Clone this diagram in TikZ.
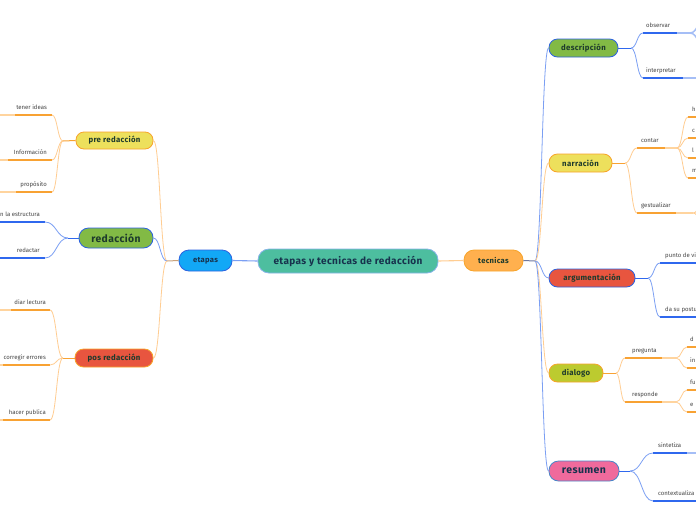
\documentclass[tikz,border=0pt]{standalone}
\usepackage{fontspec}
\setmainfont{Fira Sans}
\newfontfamily\nodefont[LetterSpace=4]{Fira Sans}
\usetikzlibrary{calc}
\definecolor{cTeal}{HTML}{4DBE9F}
\definecolor{cTealB}{HTML}{86B4E8}
\definecolor{cBlueF}{HTML}{12A8F6}
\definecolor{cBlueB}{HTML}{2C62E0}
\definecolor{cOrF}{HTML}{FFB04E}
\definecolor{cOrB}{HTML}{F7A42A}
\definecolor{cYel}{HTML}{EDE05C}
\definecolor{cGreen}{HTML}{82BA45}
\definecolor{cRed}{HTML}{E8553F}
\definecolor{cLime}{HTML}{BCCB2F}
\definecolor{cPink}{HTML}{F06A9C}
\definecolor{cPinkB}{HTML}{4A86C8}
\definecolor{lnO}{HTML}{FFCD92}
\definecolor{ulO}{HTML}{F8A233}
\definecolor{ulOl}{HTML}{FFD49E}
\definecolor{lnB}{HTML}{7B9FF3}
\definecolor{ulB}{HTML}{2F68EE}
\definecolor{ulBl}{HTML}{A5BEF6}
\definecolor{txtN}{HTML}{1D3A2C}
\definecolor{txtC}{HTML}{17324D}
\definecolor{txtL}{HTML}{454545}
\definecolor{lnTan}{HTML}{C9A27C}
\definecolor{lnGB}{HTML}{6E78A0}
\newcommand\sconn[3]{\draw[#1] let \p1=(#2), \p2=(#3), \n1={0.5*(\x1+\x2)} in (\p1) .. controls (\n1,\y1) and (\n1,\y2) .. (\p2);}
\begin{document}
\begin{tikzpicture}[x=1pt,y=-1pt,
  pill/.style={draw, line width=0.8pt, inner sep=0pt, text=txtN, font=\nodefont\fontsize{7.8}{9}\selectfont\bfseries},
  leaf/.style={inner sep=0pt, text=txtL, font=\fontsize{6}{7}\selectfont},
  oc/.style={draw=lnO, line width=0.8pt},
  bc/.style={draw=lnB, line width=0.8pt},
  ou/.style={draw=ulO, line width=1.5pt},
  oul/.style={draw=ulOl, line width=1.5pt},
  bu/.style={draw=ulB, line width=1.5pt},
  bul/.style={draw=ulBl, line width=1.5pt}]
\clip (0,0) rectangle (696,520);
\fill[white] (0,0) rectangle (696,520);

% main nodes
\node[pill, fill=cTeal, draw=cTealB, text=txtC, minimum width=180pt, minimum height=24pt, rounded corners=11pt, font=\nodefont\fontsize{10}{11}\selectfont\bfseries] (C) at (348,261) {etapas y tecnicas de redacción};
\node[pill, fill=cBlueF, draw=cBlueB, text=txtC, minimum width=53pt, minimum height=21pt, rounded corners=10pt, font=\nodefont\fontsize{7.6}{9}\selectfont\bfseries] (E) at (205.5,260.5) {etapas};
\node[pill, fill=cOrF, draw=cOrB, minimum width=59pt, minimum height=21pt, rounded corners=10pt, font=\nodefont\fontsize{7.6}{9}\selectfont\bfseries] (T) at (493.5,260.5) {tecnicas};

\node[pill, fill=cYel, draw=cOrB, minimum width=77pt, minimum height=17pt, rounded corners=8pt] (PR) at (114.5,140.5) {pre redacción};
\node[pill, fill=cGreen, draw=cBlueB, minimum width=74pt, minimum height=20pt, rounded corners=9.5pt, font=\nodefont\fontsize{10.3}{11}\selectfont\bfseries] (RD) at (116,238) {redacción};
\node[pill, fill=cRed, draw=cOrB, minimum width=78pt, minimum height=18pt, rounded corners=8.5pt] (PO) at (114,358) {pos redacción};

\node[pill, fill=cGreen, draw=cBlueB, minimum width=69pt, minimum height=18pt, rounded corners=8.5pt] (DE) at (583.5,48) {descripción};
\node[pill, fill=cYel, draw=cOrB, minimum width=63pt, minimum height=18pt, rounded corners=8.5pt] (NA) at (580.5,163) {narración};
\node[pill, fill=cRed, draw=cBlueB, minimum width=86pt, minimum height=18pt, rounded corners=8.5pt] (AR) at (592,278) {argumentación};
\node[pill, fill=cLime, draw=cOrB, minimum width=54pt, minimum height=18pt, rounded corners=8.5pt] (DI) at (576,373) {dialogo};
\node[pill, fill=cPink, draw=cPinkB, text=txtC, minimum width=70pt, minimum height=20pt, rounded corners=9.5pt, font=\nodefont\fontsize{10.5}{11}\selectfont\bfseries] (RE) at (584,471) {resumen};

% branch points
\coordinate (bE) at (167,261);
\coordinate (bT) at (535,261);
\coordinate (bPR) at (63,141);
\coordinate (bRD) at (68,238);
\coordinate (bPO) at (63,358);
\coordinate (bDE) at (631,48);
\coordinate (bNA) at (625,163);
\coordinate (bAR) at (648,278);
\coordinate (bDI) at (616,373);
\coordinate (bRE) at (630,471);

% main connectors
\draw[draw=lnB, line width=1.1pt] (C.west) -- (E.east);
\draw[draw=lnO, line width=1.1pt] (C.east) -- (T.west);
\draw[draw=lnTan, line width=1pt] (E.west) -- (bE);
\draw[draw=lnGB, line width=1pt] (T.east) -- (bT);
\sconn{oc}{bE}{PR.east}
\sconn{bc}{bE}{RD.east}
\sconn{oc}{bE}{PO.east}
\sconn{bc}{bT}{DE.west}
\sconn{oc}{bT}{NA.west}
\sconn{bc}{bT}{AR.west}
\sconn{oc}{bT}{DI.west}
\sconn{bc}{bT}{RE.west}

\draw[draw=ulO, line width=1pt] (PR.west) -- (bPR);
\draw[draw=ulB, line width=1pt] (RD.west) -- (bRD);
\draw[draw=ulO, line width=1pt] (PO.west) -- (bPO);
\draw[draw=ulB, line width=1pt] (DE.east) -- (bDE);
\draw[draw=ulO, line width=1pt] (NA.east) -- (bNA);
\draw[draw=ulB, line width=1pt] (AR.east) -- (bAR);
\draw[draw=ulO, line width=1pt] (DI.east) -- (bDI);
\draw[draw=ulB, line width=1pt] (RE.east) -- (bRE);

% ---- pre redaccion leaves
\coordinate (u1s) at (0,115); \coordinate (u1m) at (15,115); \coordinate (u1e) at (52,115);
\coordinate (u2s) at (0,160); \coordinate (u2m) at (8,160); \coordinate (u2e) at (52,160);
\coordinate (u3s) at (0,192); \coordinate (u3m) at (16,192); \coordinate (u3e) at (52,192);
\draw[oul] (u1s) -- (u1m); \draw[ou] (u1m) -- (u1e);
\draw[oul] (u2s) -- (u2m); \draw[ou] (u2m) -- (u2e);
\draw[oul] (u3s) -- (u3m); \draw[ou] (u3m) -- (u3e);
\sconn{oc}{bPR}{u1e} \sconn{oc}{bPR}{u2e} \sconn{oc}{bPR}{u3e}
\node[leaf, anchor=base east] (t1) at (47,109) {tener ideas};
\node[leaf, anchor=base east] (t2) at (47,154) {Información};
\node[leaf, anchor=base east] (t3) at (47,186) {propósito};

% ---- redaccion leaves
\coordinate (u4s) at (0,222); \coordinate (u4e) at (45,222);
\coordinate (u5s) at (0,258); \coordinate (u5e) at (45,258);
\draw[bu] (u4s) -- (u4e); \draw[bu] (u5s) -- (u5e);
\sconn{bc}{bRD}{u4e} \sconn{bc}{bRD}{u5e}
\node[leaf, anchor=base west] (t4) at (0,216) {n la estructura};
\node[leaf, anchor=base east] (t5) at (40,252) {redactar};

% ---- pos redaccion leaves
\coordinate (u6s) at (0,310); \coordinate (u6m) at (11,310); \coordinate (u6e) at (50,310);
\coordinate (u7s) at (0,365); \coordinate (u7m) at (3,365); \coordinate (u7e) at (50,365);
\coordinate (u8s) at (0,420); \coordinate (u8m) at (3,420); \coordinate (u8e) at (50,420);
\draw[oul] (u6s) -- (u6m); \draw[ou] (u6m) -- (u6e);
\draw[oul] (u7s) -- (u7m); \draw[ou] (u7m) -- (u7e);
\draw[oul] (u8s) -- (u8m); \draw[ou] (u8m) -- (u8e);
\sconn{oc}{bPO}{u6e} \sconn{oc}{bPO}{u7e} \sconn{oc}{bPO}{u8e}
\node[leaf, anchor=base east] (t6) at (46,304) {diar lectura};
\node[leaf, anchor=base east] (t7) at (46,359) {corregir errores};
\node[leaf, anchor=base east] (t8) at (46,414) {hacer publica};

% ---- descripcion leaves
\coordinate (v1s) at (643,33); \coordinate (v1m) at (677,33); \coordinate (v1e) at (690,33);
\coordinate (v2s) at (643,78); \coordinate (v2m) at (683,78); \coordinate (v2e) at (698,78);
\draw[bu] (v1s) -- (v1m); \draw[bul] (v1m) -- (v1e);
\draw[bu] (v2s) -- (v2m); \draw[bul] (v2m) -- (v2e);
\sconn{bc}{bDE}{v1s} \sconn{bc}{bDE}{v2s}
\coordinate (ob1) at (706,18); \coordinate (ob2) at (706,48);
\sconn{bul}{v1e}{ob1} \sconn{bul}{v1e}{ob2}
\node[leaf, anchor=base west] (r1) at (646,27) {observar};
\node[leaf, anchor=base west] (r2) at (646,72) {interpretar};

% ---- narracion leaves
\coordinate (v3s) at (637,148); \coordinate (v3m) at (665,148); \coordinate (v3e) at (677,148);
\coordinate (v4s) at (637,213); \coordinate (v4m) at (676,213); \coordinate (v4e) at (693,213);
\draw[ou] (v3s) -- (v3m); \draw[oul] (v3m) -- (v3e);
\draw[ou] (v4s) -- (v4m); \draw[oul] (v4m) -- (v4e);
\sconn{oc}{bNA}{v3s} \sconn{oc}{bNA}{v4s}
\node[leaf, anchor=base west] (r3) at (641,142) {contar};
\node[leaf, anchor=base west] (r4) at (641,207) {gestualizar};
\coordinate (w1s) at (688,117); \coordinate (w1e) at (698,117);
\coordinate (w2s) at (688,138); \coordinate (w2e) at (698,138);
\coordinate (w3s) at (688,158); \coordinate (w3e) at (698,158);
\coordinate (w4s) at (688,178); \coordinate (w4e) at (698,178);
\draw[ou] (w1s) -- (w1e); \draw[ou] (w2s) -- (w2e); \draw[ou] (w3s) -- (w3e); \draw[ou] (w4s) -- (w4e);
\sconn{oc}{v3e}{w1s} \sconn{oc}{v3e}{w2s} \sconn{oc}{v3e}{w3s} \sconn{oc}{v3e}{w4s}
\node[leaf, anchor=base west] (s1) at (692,111) {h};
\node[leaf, anchor=base west] (s2) at (692,132) {c};
\node[leaf, anchor=base west] (s3) at (692,152) {l};
\node[leaf, anchor=base west] (s4) at (692,172) {m};
\coordinate (ge1) at (706,198); \coordinate (ge2) at (706,228);
\sconn{oc}{v4e}{ge1} \sconn{oc}{v4e}{ge2}

% ---- argumentacion leaves
\coordinate (v5s) at (660,263); \coordinate (v5e) at (698,263);
\coordinate (v6s) at (660,317); \coordinate (v6e) at (698,317);
\draw[bu] (v5s) -- (v5e); \draw[bu] (v6s) -- (v6e);
\sconn{bc}{bAR}{v5s} \sconn{bc}{bAR}{v6s}
\node[leaf, anchor=base west] (r5) at (665,257) {punto de vi};
\node[leaf, anchor=base west] (r6) at (665,311) {da su postu};

% ---- dialogo leaves
\coordinate (v7s) at (625,358); \coordinate (v7m) at (662,358); \coordinate (v7e) at (676,358);
\coordinate (v8s) at (625,402); \coordinate (v8m) at (662,402); \coordinate (v8e) at (676,402);
\draw[ou] (v7s) -- (v7m); \draw[oul] (v7m) -- (v7e);
\draw[ou] (v8s) -- (v8m); \draw[oul] (v8m) -- (v8e);
\sconn{oc}{bDI}{v7s} \sconn{oc}{bDI}{v8s}
\node[leaf, anchor=base west] (r7) at (632,352) {pregunta};
\node[leaf, anchor=base west] (r8) at (632,396) {responde};
\coordinate (x1s) at (687,347); \coordinate (x1e) at (698,347);
\coordinate (x2s) at (687,368); \coordinate (x2e) at (698,368);
\coordinate (x3s) at (687,390); \coordinate (x3e) at (698,390);
\coordinate (x4s) at (687,412); \coordinate (x4e) at (698,412);
\draw[ou] (x1s) -- (x1e); \draw[ou] (x2s) -- (x2e); \draw[ou] (x3s) -- (x3e); \draw[ou] (x4s) -- (x4e);
\sconn{oc}{v7e}{x1s} \sconn{oc}{v7e}{x2s} \sconn{oc}{v8e}{x3s} \sconn{oc}{v8e}{x4s}
\node[leaf, anchor=base west] (q1) at (690,341) {d};
\node[leaf, anchor=base west] (q2) at (690,362) {in};
\node[leaf, anchor=base west] (q3) at (690,384) {fu};
\node[leaf, anchor=base west] (q4) at (690,406) {e};

% ---- resumen leaves
\coordinate (v9s) at (653,453); \coordinate (v9m) at (687,453); \coordinate (v9e) at (698,453);
\coordinate (v10s) at (653,501); \coordinate (v10e) at (698,501);
\draw[bu] (v9s) -- (v9m); \draw[bul] (v9m) -- (v9e);
\draw[bu] (v10s) -- (v10e);
\sconn{bc}{bRE}{v9s} \sconn{bc}{bRE}{v10s}
\node[leaf, anchor=base west] (r9) at (658,447) {sintetiza};
\node[leaf, anchor=base west] (r10) at (658,495) {contextualiza};
\end{tikzpicture}
\end{document}
